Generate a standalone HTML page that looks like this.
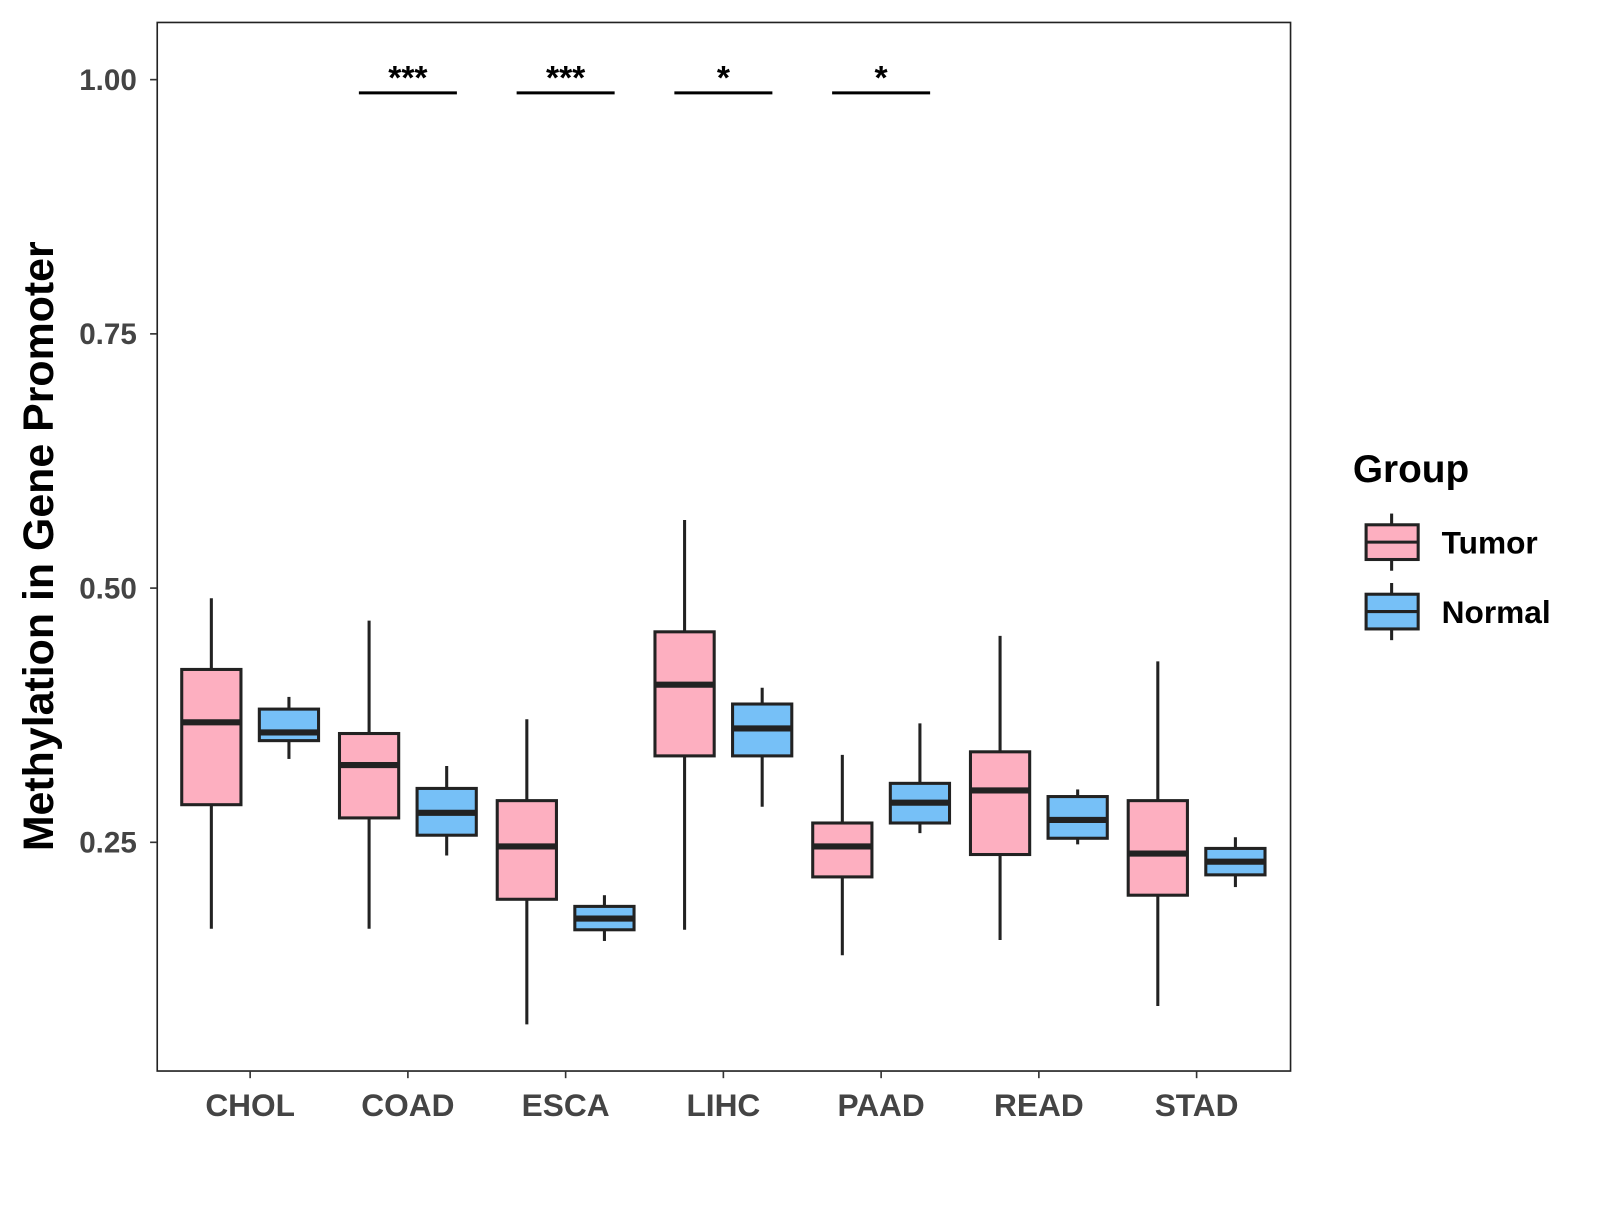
<!DOCTYPE html>
<html><head><meta charset="utf-8"><style>
body{margin:0;background:#fff;}
svg text{font-family:"Liberation Sans",Arial,sans-serif;font-weight:bold;}
</style></head><body>
<svg id="chart" width="1600" height="1200" xmlns="http://www.w3.org/2000/svg">
<rect x="0" y="0" width="1600" height="1200" fill="#fff"/>
<g id="plot" transform="scale(1.021)"></g>
</svg>
<script>
const categories=["CHOL","COAD","ESCA","LIHC","PAAD","READ","STAD"];
// [lower whisker, q1, median, q3, upper whisker]
const tumorStats=[[0.165,0.287,0.368,0.420,0.490],[0.165,0.274,0.326,0.357,0.468],[0.071,0.194,0.246,0.291,0.371],[0.164,0.335,0.405,0.457,0.567],[0.139,0.216,0.246,0.269,0.336],[0.154,0.238,0.301,0.339,0.453],[0.089,0.198,0.239,0.291,0.428]];
const normalStats=[[0.332,0.350,0.358,0.381,0.393],[0.237,0.257,0.279,0.303,0.325],[0.153,0.164,0.175,0.187,0.198],[0.285,0.335,0.362,0.386,0.402],[0.259,0.269,0.289,0.308,0.367],[0.248,0.254,0.272,0.295,0.302],[0.206,0.218,0.231,0.244,0.255]];
const yTicks=[0.25,0.50,0.75,1.00];
const yTickLabels=["0.25","0.50","0.75","1.00"];
const sigCategories=["COAD","ESCA","LIHC","PAAD"];
const sigLabels=["***","***","*","*"];
const sigLevel=0.987;

const NS="http://www.w3.org/2000/svg";
const g=document.getElementById('plot');
const P={l:154,r:1264,t:22,b:1049};
const y=v=>78+(1-v)*996;
const x=i=>245+i*154.5;
function el(tag,attrs,parent){const e=document.createElementNS(NS,tag);for(const k in attrs)e.setAttribute(k,attrs[k]);(parent||g).appendChild(e);return e;}

const frame=el('rect',{x:P.l,y:P.t,width:P.r-P.l,height:P.b-P.t,fill:'none',stroke:'#222','stroke-width':1.6});



yTicks.forEach((v,i)=>{
 const t=el('line',{x1:P.l-7,x2:P.l,y1:y(v),y2:y(v),stroke:'#333','stroke-width':1.6});
 
 
 const l=el('text',{x:P.l-20,y:y(v)+10,'text-anchor':'end','font-size':29,fill:'#444'});
 l.textContent=yTickLabels[i];
 
 
});
categories.forEach((c,i)=>{
 const t=el('line',{x1:x(i),x2:x(i),y1:P.b,y2:P.b+7,stroke:'#333','stroke-width':1.6});
 
 
 const l=el('text',{x:x(i),y:1093,'text-anchor':'middle','font-size':31,fill:'#444'});
 l.textContent=c;
 
 
});

function box(cx,s,fill,name){
 const grp=el('g',{});
 
 
 el('line',{x1:cx,x2:cx,y1:y(s[4]),y2:y(s[0]),stroke:'#222','stroke-width':3},grp);
 el('rect',{x:cx-29,y:y(s[3]),width:58,height:y(s[1])-y(s[3]),fill:fill,stroke:'#222','stroke-width':3},grp);
 el('line',{x1:cx-29,x2:cx+29,y1:y(s[2]),y2:y(s[2]),stroke:'#222','stroke-width':6},grp);
}
categories.forEach((c,i)=>{
 box(x(i)-38,tumorStats[i],'#FDAFC0','box-tumor-'+c.toLowerCase());
 box(x(i)+38,normalStats[i],'#76C0F7','box-normal-'+c.toLowerCase());
});
sigCategories.forEach((c,k)=>{
 const i=categories.indexOf(c);
 const ln=el('line',{x1:x(i)-48,x2:x(i)+48,y1:y(sigLevel),y2:y(sigLevel),stroke:'#000','stroke-width':3});
 
 
 const t=el('text',{x:x(i),y:y(sigLevel)-4,'text-anchor':'middle','font-size':33,fill:'#000'});
 t.textContent=sigLabels[k];
 
 
});

const yt=el('text',{x:0,y:0,transform:'translate(52,535) rotate(-90)','text-anchor':'middle','font-size':42,fill:'#000'});
yt.textContent='Methylation in Gene Promoter';



const lt=el('text',{x:1325,y:472,'font-size':38,fill:'#000'});
lt.textContent='Group';


[['Tumor','#FDAFC0',531],['Normal','#76C0F7',599]].forEach(([n,f,cy])=>{
 const grp=el('g',{});
 
 
 el('line',{x1:1363,x2:1363,y1:cy-28,y2:cy+28,stroke:'#222','stroke-width':3},grp);
 el('rect',{x:1338,y:cy-17,width:51,height:34,fill:f,stroke:'#222','stroke-width':3},grp);
 el('line',{x1:1338,x2:1389,y1:cy,y2:cy,stroke:'#222','stroke-width':3},grp);
 const t=el('text',{x:1412,y:cy+11,'font-size':31,fill:'#000'},grp);
 t.textContent=n;
});
</script>
</body></html>
